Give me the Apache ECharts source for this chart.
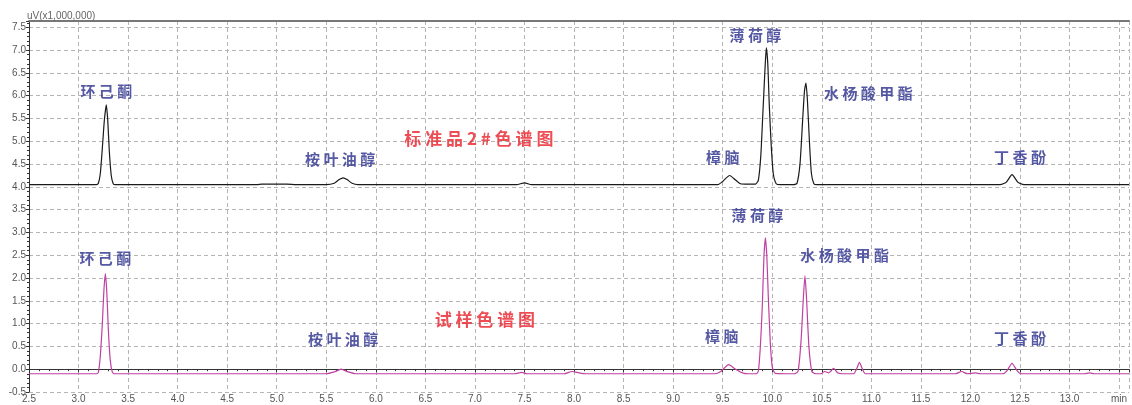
<!DOCTYPE html>
<html>
<head>
<meta charset="utf-8">
<script src="https://cdn.jsdelivr.net/npm/echarts@6/dist/echarts.min.js"></script>
<style>
  html, body { margin: 0; padding: 0; background: #fff; }
  #chart { width: 1132px; height: 405px; }
</style>
</head>
<body>
<div id="chart"></div>
<script>
// 标准品色谱 (retention time min, uV x1,000,000)
var standardTrace = [
  [2.5, 4.05], [3.18, 4.05], [3.2, 4.08], [3.22, 4.3], [3.24, 4.85], [3.26, 5.45], [3.28, 5.8],
  [3.295, 5.45], [3.31, 4.8], [3.33, 4.25], [3.35, 4.07], [3.37, 4.05],
  [4.8, 4.05], [4.85, 4.06], [5.1, 4.06], [5.2, 4.05],
  [5.5, 4.05], [5.58, 4.08], [5.63, 4.16], [5.67, 4.2], [5.71, 4.16], [5.76, 4.08], [5.82, 4.05],
  [7.42, 4.05], [7.5, 4.09], [7.57, 4.05],
  [9.45, 4.05], [9.5, 4.12], [9.57, 4.25], [9.63, 4.15], [9.68, 4.07], [9.75, 4.06],
  [9.83, 4.06], [9.86, 4.15], [9.885, 4.7], [9.905, 5.6], [9.925, 6.5], [9.94, 7.05],
  [9.955, 6.7], [9.97, 5.8], [9.99, 4.9], [10.01, 4.3], [10.04, 4.07], [10.08, 4.05],
  [10.22, 4.05], [10.25, 4.08], [10.28, 4.5], [10.305, 5.4], [10.325, 6.1], [10.34, 6.28],
  [10.355, 5.9], [10.375, 5.0], [10.395, 4.3], [10.42, 4.07], [10.45, 4.05],
  [12.3, 4.05], [12.36, 4.1], [12.42, 4.27], [12.48, 4.1], [12.54, 4.05], [13.6, 4.05]
];

// 试样色谱
var sampleTrace = [
  [2.5, -0.1], [3.18, -0.1], [3.2, -0.07], [3.22, 0.3], [3.24, 1.0], [3.255, 1.7], [3.27, 2.1],
  [3.285, 1.7], [3.3, 0.9], [3.32, 0.2], [3.34, -0.06], [3.36, -0.1],
  [5.5, -0.1], [5.58, -0.06], [5.65, 0.0], [5.72, -0.06], [5.8, -0.1],
  [7.4, -0.1], [7.47, -0.07], [7.53, -0.1],
  [7.9, -0.1], [7.98, -0.05], [8.05, -0.08], [8.12, -0.1],
  [9.42, -0.1], [9.48, -0.05], [9.56, 0.1], [9.63, 0.0], [9.7, -0.08], [9.76, -0.1],
  [9.84, -0.1], [9.86, -0.04], [9.88, 0.5], [9.9, 1.4], [9.915, 2.4], [9.93, 2.88],
  [9.945, 2.5], [9.96, 1.6], [9.98, 0.6], [10.0, 0.05], [10.03, -0.09],
  [10.22, -0.1], [10.26, -0.05], [10.29, 0.6], [10.315, 1.6], [10.33, 2.05], [10.345, 1.6],
  [10.37, 0.5], [10.4, -0.05], [10.44, -0.1],
  [10.49, -0.1], [10.53, -0.05], [10.57, -0.08], [10.62, 0.02], [10.66, -0.08], [10.7, -0.1],
  [10.82, -0.1], [10.85, 0.0], [10.88, 0.15], [10.91, 0.0], [10.94, -0.1],
  [11.85, -0.1], [11.91, -0.05], [11.97, -0.1], [12.05, -0.08], [12.1, -0.1],
  [12.33, -0.1], [12.37, -0.03], [12.42, 0.13], [12.47, -0.03], [12.51, -0.1],
  [13.15, -0.1], [13.2, -0.08], [13.25, -0.1], [13.6, -0.1]
];

// 峰名称
var peakNames = ["环己酮", "桉叶油醇", "樟脑", "薄荷醇", "水杨酸甲酯", "丁香酚"];
var standardLabelAt = [[3.28, 6.1], [5.64, 4.6], [9.5, 4.65], [9.83, 7.33], [10.97, 6.06], [12.5, 4.65]];
var sampleLabelAt = [[3.27, 2.44], [5.67, 0.66], [9.49, 0.73], [9.85, 3.37], [10.73, 2.51], [12.5, 0.68]];

var titles = ["标准品2#色谱图", "试样色谱图"];
var titleAt = [[7.04, 5.07], [7.1, 1.1]];

var chart = echarts.init(document.getElementById("chart"));

function spaced(s) {
  return s.split("").join(" ");
}

function labelSeries(names, coords, color, size) {
  return {
    type: "scatter",
    symbolSize: 0,
    silent: true,
    z: 5,
    data: names.map(function (n, i) {
      return { name: n, value: coords[i] };
    }),
    label: {
      show: true,
      position: "inside",
      formatter: function (p) { return spaced(p.name); },
      color: color,
      fontSize: size,
      fontWeight: "bold",
      fontFamily: "Noto Sans CJK SC"
    }
  };
}

function half(v) {
  return Math.abs(v * 2 - Math.round(v * 2)) < 1e-6;
}

var dashed = { show: true, lineStyle: { color: "#b4b4b4", type: [4, 3], width: 1 } };

chart.setOption({
  animation: false,
  title: {
    text: "uV(x1,000,000)",
    left: 22,
    top: 6,
    textStyle: { fontSize: 10, fontWeight: "normal", color: "#666", fontFamily: "Liberation Sans" }
  },
  grid: { left: 29, right: 1, top: 21, bottom: 13 },
  xAxis: [{
    type: "value",
    min: 2.5,
    max: 13.6,
    interval: 0.5,
    axisLine: { lineStyle: { color: "#333" } },
    axisTick: { length: 3, lineStyle: { color: "#333" } },
    minorTick: { show: true, splitNumber: 5, length: 2, lineStyle: { color: "#333" } },
    axisLabel: {
      margin: 2,
      fontSize: 10,
      color: "#555",
      fontFamily: "Liberation Sans",
      formatter: function (v) {
        if (!half(v)) return "";
        if (Math.abs(v - 13.5) < 1e-6) return "min";
        return v.toFixed(1);
      }
    },
    splitLine: dashed
  }, {
    type: "value",
    position: "top",
    min: 2.5,
    max: 13.6,
    axisLine: { show: true, lineStyle: { color: "#777", width: 2 } },
    axisTick: { show: false },
    axisLabel: { show: false },
    splitLine: { show: false }
  }],
  yAxis: {
    type: "value",
    min: -0.5,
    max: 7.64,
    interval: 0.5,
    axisLine: { show: true, lineStyle: { color: "#333" } },
    axisTick: { show: true, length: 3, lineStyle: { color: "#333" } },
    minorTick: { show: true, splitNumber: 5, length: 2, lineStyle: { color: "#333" } },
    axisLabel: {
      margin: 3,
      fontSize: 10,
      color: "#555",
      fontFamily: "Liberation Sans",
      formatter: function (v) { return half(v) ? v.toFixed(1) : ""; }
    },
    splitLine: dashed
  },
  series: [
    {
      type: "line",
      data: standardTrace,
      showSymbol: false,
      smooth: 0.2,
      lineStyle: { color: "#1a1a1a", width: 1.2 },
      z: 3
    },
    {
      type: "line",
      data: sampleTrace,
      showSymbol: false,
      smooth: 0.2,
      lineStyle: { color: "#c040a2", width: 1.2 },
      z: 3
    },
    labelSeries(peakNames, standardLabelAt, "#2a2e8c", 15),
    labelSeries(peakNames, sampleLabelAt, "#2a2e8c", 15),
    labelSeries(titles, titleAt, "#e8202a", 17)
  ]
});
</script>
</body>
</html>
